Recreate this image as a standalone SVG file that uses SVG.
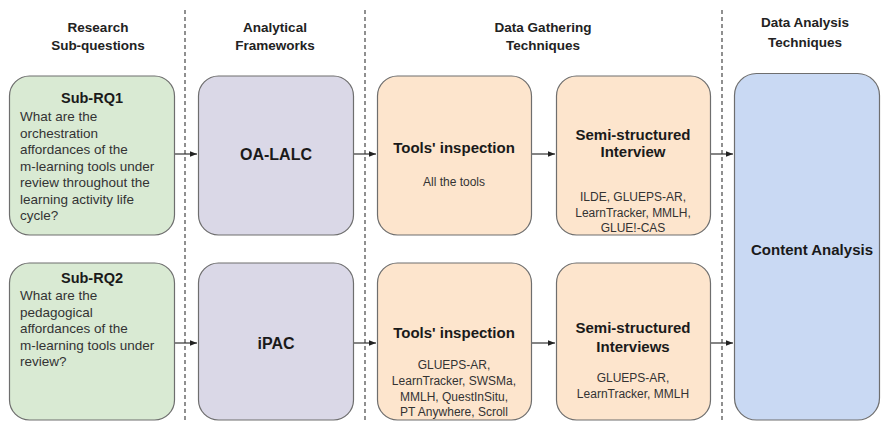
<svg xmlns="http://www.w3.org/2000/svg" width="883" height="422" viewBox="0 0 883 422">
<defs>
<marker id="ah" viewBox="0 0 10 10" refX="10" refY="5" markerWidth="7" markerHeight="7" orient="auto" markerUnits="userSpaceOnUse">
<path d="M0,1 L10,5 L0,9 z" fill="#222"/>
</marker>
<style>
.hd{font-family:"Liberation Sans",Arial,sans-serif;font-size:13.5px;font-weight:bold;fill:#222;text-anchor:middle}
.tt{font-family:"Liberation Sans",Arial,sans-serif;font-weight:bold;fill:#1a1a1a;text-anchor:middle}
.bd{font-family:"Liberation Sans",Arial,sans-serif;font-size:13.5px;fill:#333}
.sm{font-family:"Liberation Sans",Arial,sans-serif;font-size:12px;fill:#333;text-anchor:middle}
.box{stroke:#6e6e6e;stroke-width:1.2}
.g{fill:#d9ead3}.p{fill:#dad8e7}.o{fill:#fde5cd}.b{fill:#c9d9f3}
.dash{stroke:#555;stroke-width:1.3;stroke-dasharray:4 3;fill:none}
.arr{stroke:#333;stroke-width:1.2;fill:none;marker-end:url(#ah)}
</style>
</defs>
<rect width="883" height="422" fill="#fff"/>
<g id="dividers">
<line class="dash" x1="185" y1="10" x2="185" y2="422"/>
<line class="dash" x1="365" y1="10" x2="365" y2="422"/>
<line class="dash" x1="722" y1="10" x2="722" y2="422"/>
</g>
<g id="headers">
<text class="hd" x="98" y="32">Research</text>
<text class="hd" x="98" y="50">Sub-questions</text>
<text class="hd" x="275" y="32">Analytical</text>
<text class="hd" x="275" y="50">Frameworks</text>
<text class="hd" x="543" y="32">Data Gathering</text>
<text class="hd" x="543" y="50">Techniques</text>
<text class="hd" x="805" y="27">Data Analysis</text>
<text class="hd" x="805" y="47">Techniques</text>
</g>
<g id="connectors">
<line class="arr" x1="174" y1="154" x2="197" y2="154"/>
<line class="arr" x1="353" y1="154" x2="376" y2="154"/>
<line class="arr" x1="531" y1="154" x2="555" y2="154"/>
<line class="arr" x1="710" y1="154" x2="733" y2="154"/>
<line class="arr" x1="174" y1="343" x2="197" y2="343"/>
<line class="arr" x1="353" y1="343" x2="376" y2="343"/>
<line class="arr" x1="531" y1="343" x2="555" y2="343"/>
<line class="arr" x1="710" y1="343" x2="733" y2="343"/>
</g>
<g id="subrq1">
<rect class="box g" x="9.5" y="76" width="165" height="159" rx="20"/>
<text class="tt" x="92" y="103" font-size="14.5">Sub-RQ1</text>
<text class="bd" x="20" y="121">What are the</text>
<text class="bd" x="20" y="137.5">orchestration</text>
<text class="bd" x="20" y="154">affordances of the</text>
<text class="bd" x="20" y="170.5">m-learning tools under</text>
<text class="bd" x="20" y="187">review throughout the</text>
<text class="bd" x="20" y="203.5">learning activity life</text>
<text class="bd" x="20" y="220">cycle?</text>
</g>
<g id="subrq2">
<rect class="box g" x="9.5" y="263" width="165" height="157" rx="20"/>
<text class="tt" x="92" y="283" font-size="14.5">Sub-RQ2</text>
<text class="bd" x="20" y="300">What are the</text>
<text class="bd" x="20" y="316.5">pedagogical</text>
<text class="bd" x="20" y="333">affordances of the</text>
<text class="bd" x="20" y="349.5">m-learning tools under</text>
<text class="bd" x="20" y="366">review?</text>
</g>
<g id="oalalc">
<rect class="box p" x="198.5" y="76" width="155" height="159" rx="20"/>
<text class="tt" x="276" y="160" font-size="16">OA-LALC</text>
</g>
<g id="ipac">
<rect class="box p" x="198.5" y="263" width="155" height="157" rx="20"/>
<text class="tt" x="276" y="349" font-size="16">iPAC</text>
</g>
<g id="tools1">
<rect class="box o" x="377.5" y="76" width="154" height="159" rx="20"/>
<text class="tt" x="454" y="153" font-size="15">Tools' inspection</text>
<text class="sm" x="454" y="186">All the tools</text>
</g>
<g id="semi1">
<rect class="box o" x="556.5" y="76" width="154" height="159" rx="20"/>
<text class="tt" x="633" y="140" font-size="15">Semi-structured</text>
<text class="tt" x="633" y="157" font-size="15">Interview</text>
<text class="sm" x="633" y="201">ILDE, GLUEPS-AR,</text>
<text class="sm" x="633" y="216.5">LearnTracker, MMLH,</text>
<text class="sm" x="633" y="232">GLUE!-CAS</text>
</g>
<g id="tools2">
<rect class="box o" x="377.5" y="263" width="154" height="157" rx="20"/>
<text class="tt" x="454" y="338" font-size="15">Tools' inspection</text>
<text class="sm" x="454" y="369">GLUEPS-AR,</text>
<text class="sm" x="454" y="385">LearnTracker, SWSMa,</text>
<text class="sm" x="454" y="401">MMLH, QuestInSitu,</text>
<text class="sm" x="454" y="416">PT Anywhere, Scroll</text>
</g>
<g id="semi2">
<rect class="box o" x="556.5" y="263" width="154" height="157" rx="20"/>
<text class="tt" x="633" y="333" font-size="15">Semi-structured</text>
<text class="tt" x="633" y="352" font-size="15">Interviews</text>
<text class="sm" x="633" y="382">GLUEPS-AR,</text>
<text class="sm" x="633" y="398">LearnTracker, MMLH</text>
</g>
<g id="content">
<rect class="box b" x="734.5" y="73.5" width="145" height="346.5" rx="22"/>
<text class="tt" x="812" y="255" font-size="15">Content Analysis</text>
</g>
</svg>
